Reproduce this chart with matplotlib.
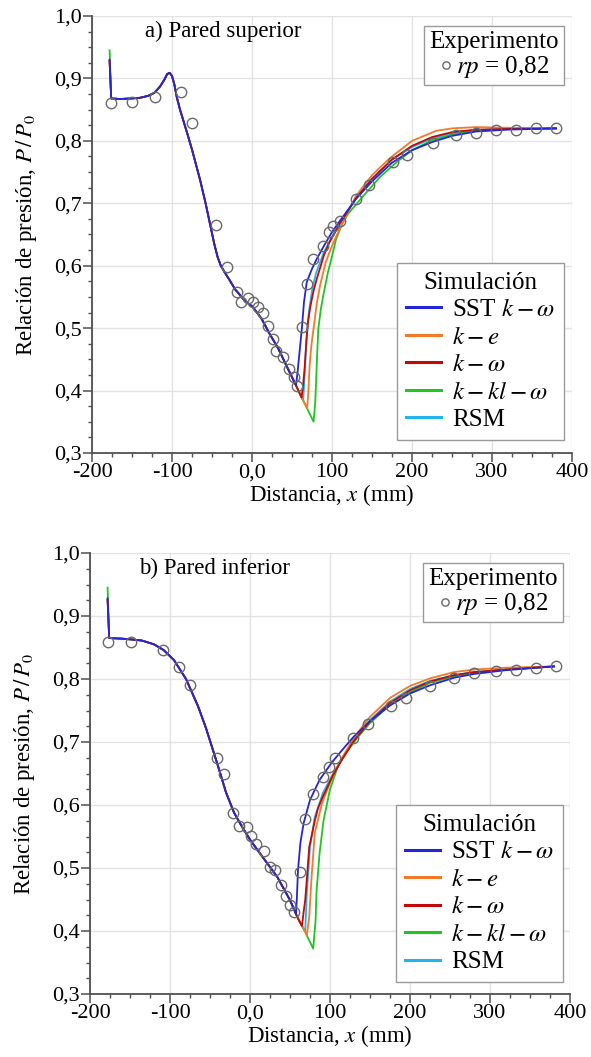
import matplotlib
matplotlib.use("Agg")
import matplotlib.pyplot as plt
from matplotlib.ticker import FixedLocator, FixedFormatter, MultipleLocator

plt.rcParams['font.family'] = ['Liberation Serif', 'DejaVu Serif']
plt.rcParams['mathtext.fontset'] = 'stix'

# ---------------- data: panel a (upper wall) ----------------
exp_x_a = [-176, -150, -121, -89, -75, -45, -31, -19, -14, -5, 1, 8, 14, 20, 26, 30, 39, 46,
           52, 56, 62, 69, 76, 89, 96, 101, 110, 130, 146, 176, 194, 226, 255, 280, 305, 330, 355, 380]
exp_y_a = [0.861, 0.863, 0.871, 0.879, 0.829, 0.665, 0.598, 0.558, 0.542, 0.549, 0.542, 0.534,
           0.525, 0.504, 0.482, 0.464, 0.454, 0.435, 0.422, 0.408, 0.502, 0.571, 0.611, 0.632,
           0.654, 0.663, 0.671, 0.707, 0.730, 0.766, 0.778, 0.796, 0.810, 0.813, 0.817, 0.818,
           0.820, 0.821]

up_x_a = [-176, -165, -150, -140, -130, -122, -115, -110, -106, -103, -100, -97, -94, -90, -85,
          -80, -75, -70, -65, -58, -52, -47, -43, -39, -34, -28, -21, -9, 1, 12, 22, 33, 43, 54]
up_y_a = [0.868, 0.867, 0.868, 0.869, 0.872, 0.877, 0.887, 0.897, 0.907, 0.909, 0.904, 0.890,
          0.870, 0.850, 0.829, 0.808, 0.786, 0.762, 0.738, 0.700, 0.664, 0.634, 0.614, 0.600,
          0.589, 0.577, 0.562, 0.544, 0.534, 0.515, 0.491, 0.467, 0.440, 0.411]
start_a = {'sst': 0.930, 'ke': 0.928, 'kw': 0.928, 'kkl': 0.945, 'rsm': 0.928}

tail_a = {
    'sst': ([55, 57, 59, 62.5, 65, 68.5, 75, 81, 90, 100, 110, 130, 150, 175, 200, 225, 250, 280, 320, 380],
            [0.408, 0.430, 0.456, 0.502, 0.542, 0.574, 0.595, 0.611, 0.632, 0.654, 0.672, 0.707,
             0.735, 0.765, 0.785, 0.798, 0.808, 0.815, 0.818, 0.820]),
    'kw': ([58, 62, 64, 66, 68, 70, 73, 77, 81, 90, 97, 110, 130, 150, 175, 200, 225, 250, 280, 320, 380],
           [0.400, 0.389, 0.410, 0.440, 0.480, 0.510, 0.535, 0.560, 0.579, 0.617, 0.638, 0.668,
            0.708, 0.739, 0.770, 0.792, 0.806, 0.814, 0.818, 0.819, 0.820]),
    'ke': ([58, 62, 66, 69, 70.5, 72, 74, 77, 81, 85, 92, 100, 110, 130, 150, 172, 200, 230, 250, 280, 320, 380],
           [0.400, 0.389, 0.379, 0.372, 0.400, 0.440, 0.470, 0.500, 0.540, 0.568, 0.605, 0.632,
            0.660, 0.712, 0.745, 0.772, 0.800, 0.816, 0.820, 0.822, 0.821, 0.820]),
    'kkl': ([58, 62, 66, 69, 77, 79, 80, 81.5, 83, 86, 89, 95, 100, 105, 112, 120, 140, 160, 180, 200, 225, 250, 280, 320, 380],
            [0.400, 0.389, 0.379, 0.371, 0.350, 0.380, 0.410, 0.460, 0.500, 0.530, 0.552, 0.590,
             0.615, 0.642, 0.665, 0.683, 0.713, 0.742, 0.765, 0.785, 0.801, 0.810, 0.816, 0.819, 0.820]),
    'rsm': ([58, 62, 64, 66, 68, 71, 75, 80, 90, 100, 110, 130, 150, 175, 200, 225, 250, 280, 320, 380],
            [0.400, 0.389, 0.384, 0.430, 0.480, 0.525, 0.560, 0.588, 0.622, 0.646, 0.668, 0.708,
             0.740, 0.770, 0.790, 0.804, 0.812, 0.817, 0.819, 0.820]),
}

# ---------------- data: panel b (lower wall) ----------------
exp_x_b = [-178, -149, -109, -89, -75, -41, -32, -21, -14, -4, 1, 8, 18, 25, 31, 39, 45, 50, 55,
           63, 69, 79, 91, 99, 106, 129, 148, 176, 195, 225, 255, 280, 307, 332, 357, 382]
exp_y_b = [0.859, 0.859, 0.846, 0.819, 0.790, 0.675, 0.649, 0.587, 0.567, 0.565, 0.551, 0.538,
           0.527, 0.502, 0.497, 0.473, 0.456, 0.441, 0.430, 0.494, 0.577, 0.617, 0.644, 0.660,
           0.675, 0.706, 0.729, 0.757, 0.770, 0.789, 0.802, 0.809, 0.813, 0.814, 0.818, 0.821]

up_x_b = [-176, -160, -150, -135, -120, -108, -95, -80, -65, -55, -47, -40, -30, -20, -12, 0,
          16, 34, 50, 57.5]
up_y_b = [0.865, 0.864, 0.863, 0.861, 0.855, 0.846, 0.830, 0.800, 0.757, 0.722, 0.690, 0.662,
          0.620, 0.588, 0.570, 0.545, 0.517, 0.486, 0.449, 0.427]
start_b = {'sst': 0.928, 'ke': 0.926, 'kw': 0.926, 'kkl': 0.945, 'rsm': 0.926}

tail_b = {
    'sst': ([58.5, 60, 63, 67, 75, 87, 102, 115, 130, 150, 175, 200, 225, 255, 280, 320, 380],
            [0.450, 0.497, 0.540, 0.571, 0.608, 0.640, 0.667, 0.687, 0.709, 0.733, 0.758, 0.777,
             0.790, 0.802, 0.808, 0.814, 0.820]),
    'kw': ([60, 65, 67, 69, 71.5, 74, 81, 85, 91, 104, 115, 130, 150, 175, 200, 225, 255, 280, 320, 380],
           [0.420, 0.408, 0.430, 0.449, 0.490, 0.533, 0.575, 0.595, 0.613, 0.648, 0.672, 0.702,
            0.733, 0.762, 0.782, 0.796, 0.806, 0.811, 0.815, 0.820]),
    'ke': ([60, 65, 69, 71, 74, 77, 81, 90, 104, 115, 130, 150, 175, 200, 225, 255, 280, 320, 380],
           [0.420, 0.408, 0.399, 0.393, 0.422, 0.486, 0.556, 0.603, 0.648, 0.675, 0.707, 0.740,
            0.770, 0.789, 0.801, 0.811, 0.815, 0.818, 0.820]),
    'kkl': ([60, 65, 69, 71, 79, 82, 83, 87, 92, 100, 110, 120, 135, 150, 175, 200, 225, 255, 280, 320, 380],
            [0.420, 0.408, 0.399, 0.393, 0.372, 0.417, 0.460, 0.524, 0.576, 0.625, 0.662, 0.683,
             0.708, 0.730, 0.759, 0.779, 0.794, 0.804, 0.810, 0.815, 0.820]),
    'rsm': ([60, 65, 69, 71, 75, 81, 91, 104, 115, 130, 150, 175, 200, 225, 255, 280, 320, 380],
            [0.420, 0.408, 0.399, 0.460, 0.533, 0.581, 0.619, 0.650, 0.673, 0.703, 0.735, 0.764,
             0.784, 0.797, 0.806, 0.811, 0.815, 0.820]),
}

models = ['sst', 'ke', 'kw', 'kkl', 'rsm']
labels = {'sst': r'SST $k-\omega$', 'ke': r'$k-e$', 'kw': r'$k-\omega$',
          'kkl': r'$k-kl-\omega$', 'rsm': 'RSM'}
colors = {'sst': '#2424d8', 'ke': '#f27a2a', 'kw': '#c00a0a', 'kkl': '#22c422', 'rsm': '#22b4ee'}
draw_order = ['rsm', 'kkl', 'ke', 'kw', 'sst']

x_ticks = [-200, -100, 0, 100, 200, 300, 400]
x_ticklabels = ['-200', '-100', '0,0', '100', '200', '300', '400']
y_ticks = [0.3, 0.4, 0.5, 0.6, 0.7, 0.8, 0.9, 1.0]
y_ticklabels = ['0,3', '0,4', '0,5', '0,6', '0,7', '0,8', '0,9', '1,0']

W, H = 591, 1057
fig = plt.figure(figsize=(W / 100, H / 100), dpi=100)

FS_TICK = 16
FS_LAB = 16.5
FS_LEG = 18

panels = [
    dict(rect=[92 / W, 1 - 453 / H, 480 / W, 437 / H], title='a) Pared superior', tpos=(-134, 0.975),
         ex=exp_x_a, ey=exp_y_a, ux=up_x_a, uy=up_y_a, start=start_a, tail=tail_a,
         sim_anchor=(0.983, 0.030), exp_anchor=(0.983, 0.977)),
    dict(rect=[90 / W, 1 - 994 / H, 480 / W, 441 / H], title='b) Pared inferior', tpos=(-139, 0.976),
         ex=exp_x_b, ey=exp_y_b, ux=up_x_b, uy=up_y_b, start=start_b, tail=tail_b,
         sim_anchor=(0.985, 0.027), exp_anchor=(0.985, 0.977)),
]

for p in panels:
    ax = fig.add_axes(p['rect'])
    ax.set_xlim(-200, 400)
    ax.set_ylim(0.3, 1.0)
    handles = {}
    for m in draw_order:
        xs = [p['ux'][0]] + p['ux'] + p['tail'][m][0]
        ys = [p['start'][m]] + p['uy'] + p['tail'][m][1]
        xs[0] = xs[0] - 2
        ln, = ax.plot(xs, ys, color=colors[m], lw=1.3, zorder=3)
        handles[m] = ln
    eh, = ax.plot(p['ex'], p['ey'], ls='none', marker='o', ms=7.5, mfc='none',
                  mec='#6a6a6a', mew=1.0, zorder=4)

    ax.xaxis.set_major_locator(FixedLocator(x_ticks))
    ax.xaxis.set_major_formatter(FixedFormatter(x_ticklabels))
    ax.xaxis.set_minor_locator(MultipleLocator(25))
    ax.yaxis.set_major_locator(FixedLocator(y_ticks))
    ax.yaxis.set_major_formatter(FixedFormatter(y_ticklabels))
    ax.yaxis.set_minor_locator(MultipleLocator(0.025))
    ax.grid(True, which='major', color='#e2e2e2', lw=1.0, zorder=0)
    ax.set_axisbelow(True)
    for s in ['top', 'right']:
        ax.spines[s].set_visible(False)
    for s in ['left', 'bottom']:
        ax.spines[s].set_color('#505050')
        ax.spines[s].set_linewidth(1.3)
    ax.tick_params(which='major', direction='out', length=6.5, width=1.1, color='#505050',
                   labelsize=FS_TICK, pad=1)
    ax.tick_params(which='minor', direction='out', length=3.2, width=1.0, color='#505050')

    ax.set_xlabel('Distancia, $x$ (mm)', fontsize=FS_LAB, labelpad=0)
    ax.set_ylabel('Relación de presión, $P\\,/\\,P_0$', fontsize=FS_LAB, labelpad=11)
    ax.text(p['tpos'][0], p['tpos'][1], p['title'], fontsize=FS_LAB, ha='left', va='center')

    leg1 = ax.legend([handles[m] for m in models], [labels[m] for m in models],
                     title='Simulación', loc='lower right', bbox_to_anchor=p['sim_anchor'],
                     borderaxespad=0, fontsize=FS_LEG, title_fontsize=FS_LEG, frameon=True,
                     fancybox=False, edgecolor='#9a9a9a', framealpha=1, handlelength=1.4,
                     handletextpad=0.45, labelspacing=0.2, borderpad=0.35)
    leg1.get_frame().set_linewidth(1.0)
    for lh in leg1.get_lines():
        lh.set_linewidth(2.2)
    ax.add_artist(leg1)
    leg2 = ax.legend([eh], [r'$rp$ = 0,82'], title='Experimento', loc='upper right',
                     bbox_to_anchor=p['exp_anchor'], borderaxespad=0, fontsize=FS_LEG,
                     title_fontsize=FS_LEG, frameon=True, fancybox=False, edgecolor='#9a9a9a',
                     framealpha=1, handlelength=0.5, handletextpad=0.15, borderpad=0.2,
                     labelspacing=0.05, markerscale=0.7)
    leg2.get_frame().set_linewidth(1.0)

fig.savefig('out.png', dpi=100)
